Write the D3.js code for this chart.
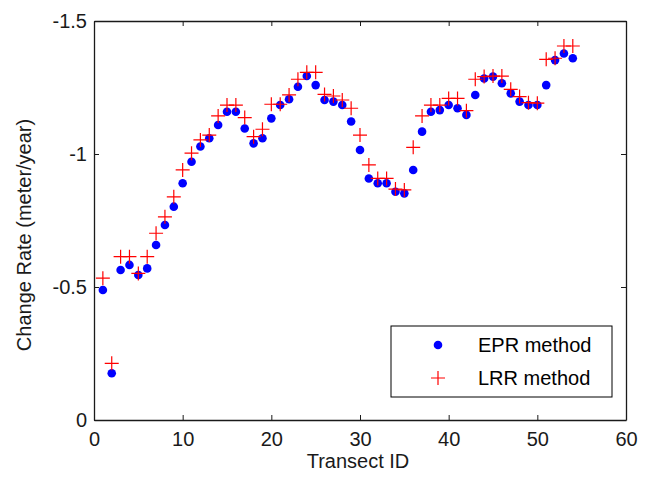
<!DOCTYPE html>
<html>
<head>
<meta charset="utf-8">
<script src="https://cdn.jsdelivr.net/npm/d3@7"></script>
<style>
  html, body { margin: 0; padding: 0; background: #fff; }
  svg { display: block; font-family: "Liberation Sans", Arial, sans-serif; }
</style>
</head>
<body>
<svg id="chart" width="649" height="478"></svg>
<script>
const transectIds = [1,2,3,4,5,6,7,8,9,10,11,12,13,14,15,16,17,18,19,20,21,22,23,24,25,26,27,
  28,29,30,31,32,33,34,35,36,37,38,39,40,41,42,43,44,45,46,47,48,49,50,51,52,53,54];
const eprValues = [-0.489,-0.176,-0.564,-0.583,-0.545,-0.570,-0.658,-0.733,-0.802,-0.890,
  -0.971,-1.028,-1.059,-1.109,-1.159,-1.159,-1.096,-1.040,-1.059,-1.134,
  -1.184,-1.206,-1.253,-1.293,-1.259,-1.203,-1.197,-1.184,-1.122,-1.015,
  -0.908,-0.890,-0.890,-0.858,-0.852,-0.940,-1.084,-1.159,-1.165,-1.184,
  -1.172,-1.147,-1.222,-1.284,-1.291,-1.266,-1.228,-1.197,-1.184,-1.184,
  -1.259,-1.353,-1.378,-1.360];
const lrrValues = [-0.533,-0.213,-0.614,-0.614,-0.551,-0.614,-0.702,-0.764,-0.839,-0.940,
  -1.003,-1.053,-1.071,-1.143,-1.184,-1.184,-1.137,-1.065,-1.093,-1.187,
  -1.187,-1.222,-1.281,-1.307,-1.307,-1.224,-1.218,-1.203,-1.172,-1.071,
  -0.959,-0.908,-0.908,-0.868,-0.865,-1.025,-1.143,-1.184,-1.184,-1.209,
  -1.209,-1.163,-1.281,-1.291,-1.293,-1.293,-1.243,-1.216,-1.193,-1.191,
  -1.356,-1.360,-1.406,-1.406];
const xTickValues = [0,10,20,30,40,50,60];
const xTickLabels = ["0","10","20","30","40","50","60"];
const yTickValues = [-1.5,-1,-0.5,0];
const yTickLabels = ["-1.5","-1","-0.5","0"];
const seriesNames = ["EPR method","LRR method"];
const xLabel = "Transect ID";
const yLabel = "Change Rate (meter/year)";

(function () {
const svg = d3.select("#chart");
const pLeft = 94, pRight = 626, pTop = 21, pBottom = 420;
const x = d3.scaleLinear().domain([0, 60]).range([pLeft, pRight]);
const y = d3.scaleLinear().domain([0, -1.5]).range([pBottom, pTop]);
const axisColor = "#1a1a1a";
const fontSize = 20;

function styleAxis(g, showText) {
  g.select(".domain").attr("stroke", axisColor).attr("stroke-width", 1.3);
  g.selectAll(".tick line").attr("stroke", axisColor).attr("stroke-width", 1);
  g.selectAll(".tick text").attr("fill", showText ? "#1a1a1a" : "none")
    .style("font-size", fontSize + "px").style("font-family", '"Liberation Sans", Arial, sans-serif');
}

const xMap = new Map(xTickValues.map((v, i) => [v, xTickLabels[i]]));
const yMap = new Map(yTickValues.map((v, i) => [v, yTickLabels[i]]));

svg.append("g").attr("transform", `translate(0,${pBottom})`)
  .call(d3.axisBottom(x).tickValues(xTickValues).tickSize(-5).tickSizeOuter(0).tickPadding(12)
    .tickFormat(d => xMap.get(d)))
  .call(g => styleAxis(g, true));
svg.append("g").attr("transform", `translate(0,${pTop})`)
  .call(d3.axisTop(x).tickValues(xTickValues).tickSize(-5).tickSizeOuter(0).tickFormat(""))
  .call(g => styleAxis(g, false));
svg.append("g").attr("transform", `translate(${pLeft},0)`)
  .call(d3.axisLeft(y).tickValues(yTickValues).tickSize(-5).tickSizeOuter(0).tickPadding(7)
    .tickFormat(d => yMap.get(d)))
  .call(g => styleAxis(g, true));
svg.append("g").attr("transform", `translate(${pRight},0)`)
  .call(d3.axisRight(y).tickValues(yTickValues).tickSize(-5).tickSizeOuter(0).tickFormat(""))
  .call(g => styleAxis(g, false));

// axis labels
svg.append("text").attr("x", 358).attr("y", 468).attr("text-anchor", "middle")
  .style("font-size", fontSize + "px").attr("fill", "#1a1a1a").text(xLabel);
svg.append("text").attr("transform", "translate(31,235) rotate(-90)").attr("text-anchor", "middle")
  .style("font-size", fontSize + "px").attr("fill", "#1a1a1a").text(yLabel);

const eprColor = "#0000ff", lrrColor = "#ff0000";
const plusHalf = 7;
function plusPath(cx, cy) {
  return `M${cx - plusHalf},${cy}H${cx + plusHalf}M${cx},${cy - plusHalf}V${cy + plusHalf}`;
}

// EPR dots
svg.append("g").selectAll("circle").data(transectIds).join("circle")
  .attr("cx", (d) => x(d)).attr("cy", (d, i) => y(eprValues[i])).attr("r", 4.3)
  .attr("fill", eprColor);

// LRR plus markers
svg.append("g").selectAll("path").data(transectIds).join("path")
  .attr("d", (d, i) => plusPath(x(d), y(lrrValues[i])))
  .attr("stroke", lrrColor).attr("stroke-width", 1.2).attr("fill", "none");

// legend
const lg = svg.append("g");
lg.append("rect").attr("x", 391).attr("y", 326).attr("width", 221).attr("height", 71)
  .attr("fill", "#fff").attr("stroke", "#000").attr("stroke-width", 1);
lg.append("circle").attr("cx", 438).attr("cy", 345).attr("r", 4.3).attr("fill", eprColor);
lg.append("path").attr("d", plusPath(438, 378)).attr("stroke", lrrColor).attr("stroke-width", 1.2).attr("fill", "none");
lg.append("text").attr("x", 478).attr("y", 352).style("font-size", fontSize + "px").attr("fill", "#000").text(seriesNames[0]);
lg.append("text").attr("x", 478).attr("y", 385).style("font-size", fontSize + "px").attr("fill", "#000").text(seriesNames[1]);
})();
</script>
</body>
</html>
